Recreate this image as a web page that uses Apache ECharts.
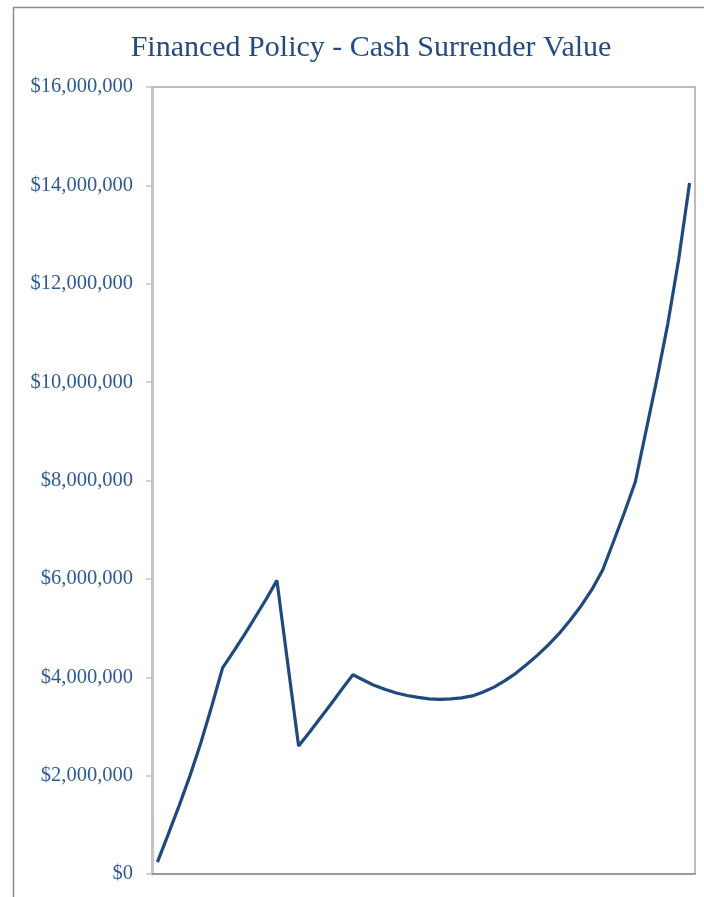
<!DOCTYPE html>
<html>
<head>
<meta charset="utf-8">
<script src="https://cdn.jsdelivr.net/npm/echarts@6/dist/echarts.min.js"></script>
<style>
html,body{margin:0;padding:0;background:#fff;}
#chart{width:704px;height:897px;}
</style>
</head>
<body>
<div id="chart"></div>
<script>
var title = "Financed Policy - Cash Surrender Value";
var years = [1,2,3,4,5,6,7,8,9,10,11,12,13,14,15,16,17,18,19,20,21,22,23,24,25,26,27,28,29,30,31,32,33,34,35,36,37,38,39,40,41,42,43,44,45,46,47,48,49,50];
var cashSurrenderValue = [
  240000, 810000, 1390000, 2000000, 2670000, 3410000, 4190000,
  4520000, 4860000, 5220000, 5580000, 5970000,
  4280000, 2600000,
  2880000, 3170000, 3460000, 3760000, 4050000,
  3940000, 3830000, 3750000, 3680000, 3630000, 3590000, 3560000, 3550000, 3560000, 3580000, 3620000,
  3700000, 3800000, 3930000, 4080000, 4260000, 4450000, 4660000, 4890000, 5160000, 5450000,
  5780000, 6180000, 6760000, 7350000, 7970000, 9020000, 10070000, 11190000, 12500000, 14050000
];
var yTicks = { min: 0, max: 16000000, interval: 2000000 };

var chart = echarts.init(document.getElementById('chart'), null, {renderer: 'canvas'});
chart.setOption({
  backgroundColor: '#ffffff',
  animation: false,
  graphic: [{
    type: 'rect',
    shape: {x: 13.5, y: 7.5, width: 760, height: 960},
    style: {fill: 'none', stroke: '#8c8c8c', lineWidth: 1.5},
    silent: true
  }],
  title: {
    text: title,
    left: 366, top: 28, textAlign: 'center',
    textStyle: {fontFamily: 'Liberation Serif', fontWeight: 'normal', fontSize: 30, color: '#254A80'}
  },
  grid: {left: 152, right: 9, top: 87, bottom: 23, show: true, borderColor: '#a6a6a6', borderWidth: 1.5},
  xAxis: {
    type: 'category',
    data: years,
    boundaryGap: true,
    axisLine: {show: true, lineStyle: {color: '#9a9a9a', width: 2}},
    axisTick: {show: false},
    axisLabel: {show: false},
    splitLine: {show: false}
  },
  yAxis: {
    type: 'value',
    min: yTicks.min, max: yTicks.max, interval: yTicks.interval,
    axisLine: {show: true, lineStyle: {color: '#c4c4c4', width: 3}},
    axisTick: {show: true, length: 6, lineStyle: {color: '#c4c4c4', width: 1.5}},
    splitLine: {show: false},
    axisLabel: {
      margin: 19,
      fontFamily: 'Liberation Serif', fontSize: 20.5, color: '#2E5A94',
      formatter: function (v) { return '$' + v.toLocaleString('en-US'); }
    }
  },
  series: [{
    type: 'line',
    data: cashSurrenderValue,
    showSymbol: false,
    smooth: false,
    lineStyle: {color: '#1F4A7D', width: 3.2},
    itemStyle: {color: '#1F4A7D'}
  }]
});
</script>
</body>
</html>
